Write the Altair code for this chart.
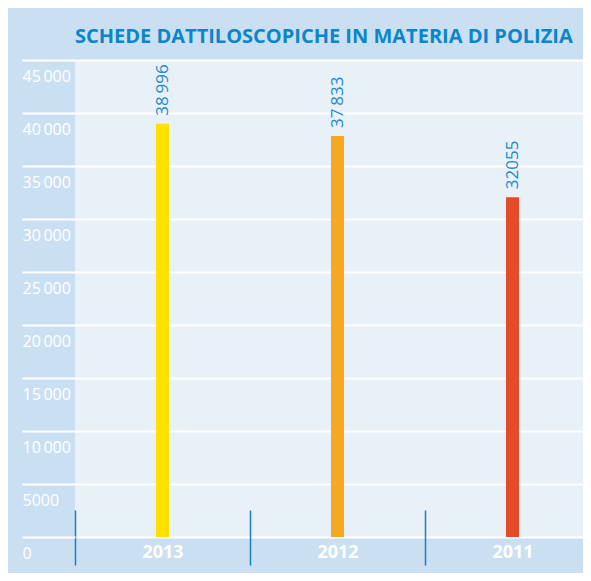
import altair as alt
import pandas as pd

years = ["2013", "2012", "2011"]
values = [38996, 37833, 32055]
value_labels = ["38\u2009996", "37\u2009833", "32055"]
bar_colors = ["#ffe100", "#f7a81e", "#e54b24"]
y_ticks = [0, 5000, 10000, 15000, 20000, 25000, 30000, 35000, 40000, 45000]
title_text = "SCHEDE DATTILOSCOPICHE IN MATERIA DI POLIZIA"

df = pd.DataFrame({"year": years, "value": values, "label": value_labels})

x = alt.X(
    "year:N",
    sort=years,
    scale=alt.Scale(domain=years, range=[0, 525], paddingInner=0, paddingOuter=0),
    axis=alt.Axis(
        title=None, domain=False, grid=False, labelAngle=0,
        labelColor="white", labelFont="Open Sans", labelFontWeight="bold",
        labelFontSize=18, labelPadding=-13, labelBaseline="middle",
        tickBand="extent", tickSize=55, tickColor="#1b7fc4", tickWidth=1.5,
        offset=-27,
    ),
)
y = alt.Y(
    "value:Q",
    scale=alt.Scale(domain=[0, 45000], nice=False, zero=True),
    axis=alt.Axis(
        title=None, values=y_ticks, domain=False,
        tickSize=53, tickColor="white", tickWidth=2,
        gridColor="white", gridWidth=2, gridOpacity=1,
        labelColor="white", labelFont="Open Sans", labelFontSize=16,
        labelAlign="left", labelBaseline="top", labelPadding=0, labelOffset=8,
        labelOverlap=False,
        labelExpr="datum.value >= 10000 ? replace(format(datum.value, ','), ',', '\u2009') : format(datum.value, 'd')",
    ),
)

color = alt.Color("year:N", scale=alt.Scale(domain=years, range=bar_colors), legend=None)

bars = alt.Chart(df).mark_bar(size=13).encode(x=x, y=y, color=color)
labels = alt.Chart(df).mark_text(
    angle=270, align="left", baseline="middle", dx=8,
    font="Open Sans", fontSize=17, color="#1a8ad2",
).encode(x=x, y=y, text="label:N")

chart = alt.layer(bars, labels).properties(
    width=508,
    height=477,
    title=alt.Title(
        title_text, anchor="start", frame="group", font="Open Sans",
        fontSize=20, fontWeight="bold", color="#0a86cc", offset=12,
    ),
    background="#cbdff2",
    padding={"left": 67, "top": 52, "right": 0, "bottom": 36},
    autosize=alt.AutoSizeParams(type="none"),
).configure_view(stroke=None, fill="#e8f0f8")

chart.save("out.html", embed_options={"renderer": "svg", "actions": False})
